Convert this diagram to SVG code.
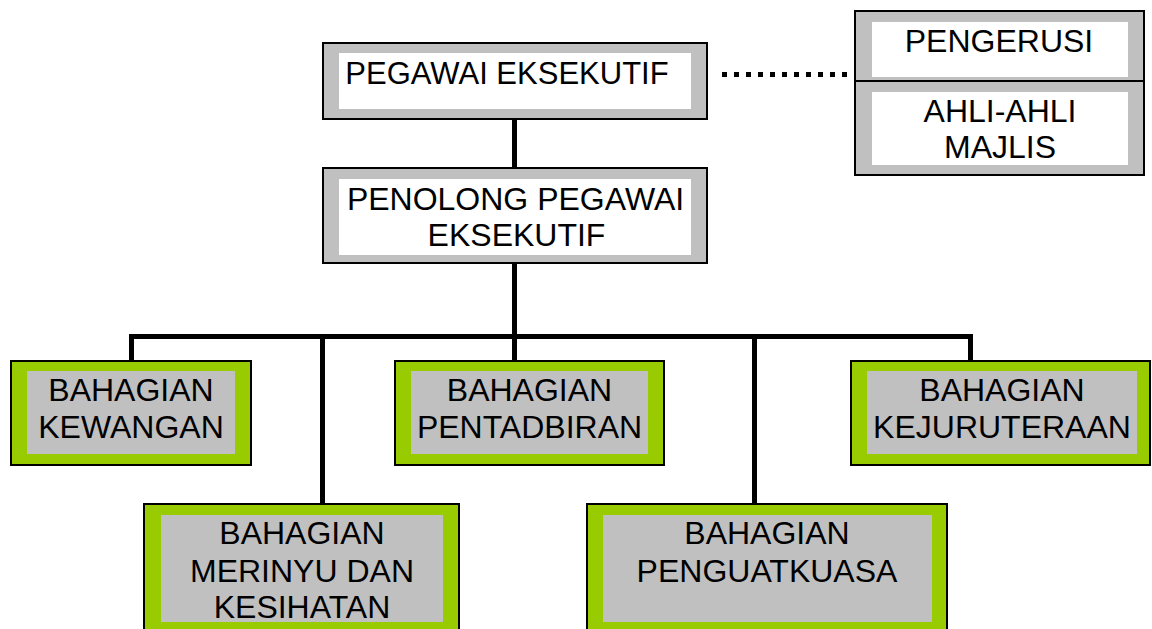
<svg xmlns="http://www.w3.org/2000/svg" width="1152" height="629" viewBox="0 0 1152 629">
<style>
.outerG{fill:#c0c0c0;stroke:#000;stroke-width:2}
.innerW{fill:#fff}
.outerN{fill:#99cc00;stroke:#000;stroke-width:2}
.innerN{fill:#c0c0c0}
.t{font-family:"Liberation Sans",Arial,sans-serif;font-size:32px;fill:#000;text-anchor:middle}
.c{fill:none;stroke:#000;stroke-width:5}
</style>
<rect width="1152" height="629" fill="#fff"/>
<g id="connectors">
<line class="c" x1="514.5" y1="119" x2="514.5" y2="168"/>
<line class="c" x1="514.5" y1="263" x2="514.5" y2="367"/>
<path class="c" d="M131.5 362 V336.5 H970.5 V362"/>
<line class="c" x1="322.5" y1="336.5" x2="322.5" y2="512"/>
<line class="c" x1="754.5" y1="336.5" x2="754.5" y2="512"/>
<line x1="722" y1="74.5" x2="855" y2="74.5" stroke="#000" stroke-width="5" stroke-dasharray="5 7"/>
</g>
<g id="pegawai">
<rect class="outerG" x="323" y="43" width="384" height="76"/>
<rect class="innerW" x="339" y="53" width="352" height="56"/>
<text class="t" x="507" y="84" style="font-size:31px">PEGAWAI EKSEKUTIF</text>
</g>
<g id="pengerusi">
<rect class="outerG" x="855" y="11" width="289" height="70"/>
<rect class="innerW" x="872" y="22" width="256" height="55"/>
<text class="t" x="999" y="52">PENGERUSI</text>
</g>
<g id="ahli">
<rect class="outerG" x="855" y="81" width="289" height="94"/>
<rect class="innerW" x="872" y="92" width="256" height="73"/>
<text class="t" x="1000" y="122">AHLI-AHLI</text>
<text class="t" x="1000" y="158">MAJLIS</text>
</g>
<g id="penolong">
<rect class="outerG" x="323" y="168" width="384" height="95"/>
<rect class="innerW" x="339" y="179" width="352" height="76"/>
<text class="t" x="515.5" y="210">PENOLONG PEGAWAI</text>
<text class="t" x="516.5" y="246">EKSEKUTIF</text>
</g>
<g id="kewangan">
<rect class="outerN" x="11" y="361" width="240" height="104"/>
<rect class="innerN" x="27" y="371" width="208" height="83"/>
<text class="t" x="131" y="401">BAHAGIAN</text>
<text class="t" x="131" y="438">KEWANGAN</text>
</g>
<g id="pentadbiran">
<rect class="outerN" x="395" y="361" width="269" height="104"/>
<rect class="innerN" x="411" y="371" width="237" height="83"/>
<text class="t" x="529.5" y="401">BAHAGIAN</text>
<text class="t" x="529.5" y="438">PENTADBIRAN</text>
</g>
<g id="kejuruteraan">
<rect class="outerN" x="851" y="361" width="299" height="104"/>
<rect class="innerN" x="867" y="371" width="270" height="83"/>
<text class="t" x="1002" y="401">BAHAGIAN</text>
<text class="t" x="1002" y="438">KEJURUTERAAN</text>
</g>
<g id="merinyu">
<rect class="outerN" x="144" y="504" width="315" height="140"/>
<rect class="innerN" x="161" y="515" width="282" height="107"/>
<text class="t" x="302" y="544">BAHAGIAN</text>
<text class="t" x="302" y="582">MERINYU DAN</text>
<text class="t" x="302" y="618">KESIHATAN</text>
</g>
<g id="penguatkuasa">
<rect class="outerN" x="587" y="504" width="360" height="140"/>
<rect class="innerN" x="603" y="515" width="329" height="107"/>
<text class="t" x="767" y="544">BAHAGIAN</text>
<text class="t" x="767" y="582">PENGUATKUASA</text>
</g>
</svg>
